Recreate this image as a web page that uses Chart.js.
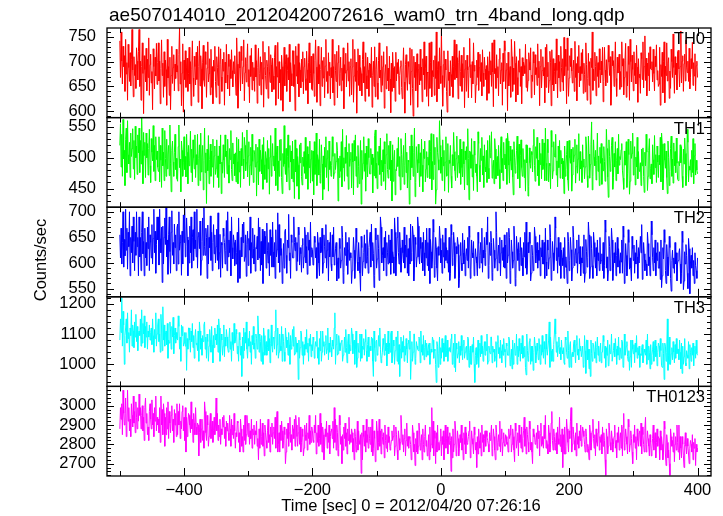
<!DOCTYPE html>
<html><head><meta charset="utf-8">
<script src="https://cdn.jsdelivr.net/npm/chart.js@4.4.1/dist/chart.umd.min.js"></script>
<style>html,body{margin:0;padding:0;background:#fff;}canvas{display:block;}</style>
</head><body>
<canvas id="c" width="723" height="516"></canvas>
<script>
const plotTitle = "ae507014010_20120420072616_wam0_trn_4band_long.qdp";
const xTitle = "Time [sec] 0 = 2012/04/20 07:26:16";
const yTitle = "Counts/sec";
const bandNames = ["TH0", "TH1", "TH2", "TH3", "TH0123"];
const bandColors = ["#ff0000", "#00ff00", "#0000ff", "#00ffff", "#ff00ff"];
const binStart = -500;
const binSize = 1;

const th0 = [
742,668,760,701,655,731,690,712,640,745,675,698,622,735,688,660,718,651,705,765,683,629,710,672,694,646,728,701,663,720,
765,650,701,622,690,738,676,595,712,684,659,727,641,705,668,748,632,694,715,657,680,603,726,690,645,709,671,737,654,698,
738,661,701,615,686,744,672,697,628,720,650,703,684,612,745,667,690,632,709,603,672,731,656,688,714,641,695,666,725,679,
692,641,714,768,655,700,611,677,736,598,703,664,722,648,689,707,640,676,729,655,700,611,685,742,667,630,711,690,653,719,
664,731,618,690,742,651,712,685,605,699,733,662,650,720,694,628,687,740,659,676,706,633,725,648,690,615,703,681,731,660,
628,710,688,652,730,615,694,726,669,640,705,681,719,612,699,657,735,673,645,715,690,631,704,666,724,682,649,700,676,712,
673,632,748,695,606,661,720,687,641,731,702,655,690,744,621,678,708,659,697,736,650,684,617,712,670,727,643,699,662,688,
640,734,669,702,616,688,727,652,676,710,633,699,665,741,608,687,719,672,645,703,690,626,731,681,658,714,694,639,707,671,
644,708,733,612,690,669,739,625,700,657,684,622,713,690,600,667,729,651,695,714,640,682,708,663,735,619,698,676,651,722,
722,650,694,601,731,671,712,655,736,629,698,683,647,705,660,720,635,690,707,666,642,721,684,615,699,738,657,676,711,645,
642,716,676,630,702,744,689,618,673,731,655,694,611,684,729,650,702,667,709,627,691,745,660,680,636,718,672,699,625,688,
668,745,637,690,612,715,682,660,721,627,698,733,652,676,709,641,687,662,728,605,694,677,717,649,683,738,661,700,630,690,
706,633,689,745,618,671,725,660,699,596,681,726,652,713,641,688,676,631,704,740,657,690,620,718,672,645,709,683,630,697,
695,668,729,608,672,701,650,730,629,684,709,657,624,702,738,667,683,639,712,652,690,720,606,675,694,645,731,661,687,641,
711,665,597,697,640,719,688,647,690,620,719,661,698,676,705,634,672,690,702,648,625,683,728,659,596,694,714,668,642,700,
690,655,728,612,680,725,646,590,711,668,699,641,677,716,608,684,695,653,725,662,689,619,706,673,740,644,687,711,630,679,
677,610,738,646,698,740,629,682,670,703,632,712,666,760,619,684,700,645,728,691,656,765,672,610,694,722,648,705,683,640,
598,722,662,679,631,702,674,650,711,628,690,744,664,689,735,667,708,625,699,722,651,680,713,640,696,668,729,607,685,703,
640,713,683,627,690,747,668,694,627,700,655,738,681,693,617,653,703,668,719,642,688,715,660,698,631,724,677,650,709,685,
664,692,622,710,681,636,720,674,702,650,738,679,609,744,676,686,646,714,668,690,631,705,727,655,683,698,612,717,660,742,
722,645,683,697,601,719,651,673,690,628,745,710,640,687,654,741,697,619,710,668,633,702,679,726,650,690,615,708,671,699,
692,676,735,648,705,640,662,718,699,683,728,627,673,660,720,697,633,714,674,688,652,736,668,701,611,690,725,647,682,710,
671,688,617,729,648,735,670,699,637,662,721,699,611,724,653,706,641,680,697,655,746,682,627,713,667,700,640,731,688,659,
706,641,749,672,725,690,615,748,682,630,667,712,690,727,681,657,684,703,640,741,668,696,621,710,678,733,649,690,662,718,
676,725,636,697,674,639,738,694,622,666,717,652,700,614,707,688,760,642,685,662,719,690,631,711,670,698,648,726,683,657,
701,673,729,619,660,729,683,651,704,658,683,733,699,672,710,612,645,721,692,702,650,687,740,666,630,709,677,695,715,644,
680,649,740,691,706,633,668,702,737,628,680,651,731,694,622,745,700,659,713,684,641,720,672,697,655,733,689,618,706,668,
675,636,718,706,664,740,647,690,752,662,707,631,697,672,718,641,730,686,684,700,659,725,676,641,711,690,734,663,682,650,
655,729,612,694,670,719,637,700,740,617,691,672,738,661,697,708,626,681,646,725,700,668,756,688,636,710,674,697,643,720,
723,685,649,690,762,657,701,712,640,696,715,661,744,689,678,701,660,727,645,668,706,686,739,652,698,671,716,641,692,701,
668];
const th1 = [
520,555,485,538,470,562,498,512,455,530,548,476,560,505,490,525,468,540,502,515,547,482,528,465,551,500,519,473,537,508,
548,476,528,490,565,512,458,541,504,525,468,540,500,523,472,515,546,487,460,531,509,495,552,478,520,463,534,497,511,485,
478,534,461,520,496,452,548,487,509,463,544,499,470,530,482,506,520,471,553,490,445,512,527,493,470,509,538,481,499,466,
462,518,553,484,498,445,527,512,470,493,534,481,502,469,538,509,458,520,487,495,543,476,514,461,529,500,482,537,468,505,
489,538,455,499,521,463,540,477,501,520,448,495,548,476,508,426,514,479,536,458,497,522,470,511,485,530,452,503,519,473,
483,529,468,503,452,519,490,537,442,493,475,521,496,468,537,502,511,474,530,488,459,515,497,544,481,463,524,490,506,471,
508,461,533,494,458,530,477,511,452,515,487,541,498,466,533,520,479,492,545,469,503,526,455,488,517,472,538,494,460,512,
506,485,522,438,493,517,456,530,478,512,497,474,521,449,533,489,465,510,499,460,528,482,515,441,501,536,470,493,523,487,
503,479,548,455,506,519,447,495,470,529,496,530,468,442,507,486,552,490,473,515,461,502,537,484,448,520,493,511,466,527,
461,498,434,529,477,515,454,502,488,433,521,492,524,470,456,501,486,510,475,533,466,495,518,449,506,484,527,459,498,512,
462,511,440,526,473,490,540,455,505,497,472,530,459,475,521,490,432,503,449,517,485,534,468,499,512,446,527,481,494,470,
488,534,502,466,475,507,481,494,525,512,430,499,468,503,478,526,453,546,484,500,462,517,491,536,470,509,449,523,486,497,
509,451,523,493,440,528,495,537,470,502,452,520,486,458,490,528,425,512,465,491,534,478,507,446,519,489,469,531,500,474,
474,515,489,506,443,500,471,536,545,467,491,450,510,488,519,473,532,455,496,477,513,462,526,490,448,505,539,481,467,520,
481,527,463,496,430,521,462,498,512,440,481,479,515,486,533,470,502,448,531,505,469,493,520,457,488,540,476,509,451,496,
493,425,519,464,537,484,519,470,509,548,437,460,518,497,476,522,491,453,508,470,530,488,445,514,499,527,461,482,510,468,
501,488,528,466,510,539,448,494,465,538,489,517,425,448,533,509,497,480,560,520,475,501,463,529,487,512,446,493,534,470,
472,523,444,496,491,520,470,451,505,487,541,510,479,463,499,535,468,492,504,475,530,457,514,484,469,526,490,448,511,497,
518,456,547,499,432,511,509,483,531,469,505,447,527,504,476,490,470,445,542,523,488,461,515,496,533,472,503,452,521,485,
477,512,460,528,483,466,536,500,509,542,467,485,496,458,531,514,466,494,502,471,520,481,450,511,534,476,499,463,525,489,
506,482,531,457,540,527,488,459,519,495,480,513,469,440,526,501,475,488,512,535,466,498,522,451,504,529,484,470,515,493,
468,497,446,521,492,520,438,454,516,492,483,510,505,477,520,546,487,462,518,499,533,471,496,455,524,489,507,466,530,481,
486,524,463,548,491,463,530,508,461,491,487,450,544,517,466,479,526,503,501,538,472,495,453,519,484,528,467,512,490,499,
466,495,442,519,470,481,505,527,464,447,528,500,491,514,446,472,517,493,504,530,459,486,521,475,498,539,463,510,482,495,
460,521,485,498,466,485,534,519,471,452,535,506,467,489,522,558,448,470,529,501,487,512,464,496,540,478,503,455,517,491,
523,457,499,479,518,494,462,480,546,515,469,436,529,502,478,490,520,533,449,468,507,485,526,463,495,515,474,538,488,502,
497,513,523,480,467,449,511,488,497,526,452,474,530,505,441,462,527,499,507,540,472,493,518,456,501,485,533,466,510,479,
478,492,455,514,487,516,470,444,509,487,538,509,447,470,512,531,466,483,490,458,521,497,473,536,484,505,460,519,493,468,
504,489,533,461,540,522,448,466,523,496,483,511,468,442,527,500,455,478,515,535,470,498,459,524,487,510,476,532,491,465,
463,494,487,521,492,518,470,452,514,490,532,507,455,471,546,525,461,486,480,497,469,512,476,531,458,503,523,472,496,480,
474];
const th2 = [
655,610,668,598,640,700,592,646,614,705,625,668,588,660,632,700,575,650,620,672,600,690,642,585,660,615,700,632,650,575,
690,612,650,585,660,700,618,642,575,668,610,640,595,670,628,690,585,655,640,610,675,598,648,705,620,662,580,636,690,645,
690,596,705,648,620,670,562,672,598,650,688,636,710,612,645,578,655,690,622,580,660,702,615,640,598,676,630,655,585,668,
676,598,700,625,640,655,576,662,598,694,640,708,612,633,688,651,575,645,600,672,620,690,590,650,665,605,700,628,645,612,
705,590,652,660,628,682,576,605,642,688,615,710,632,615,668,650,570,674,598,650,630,692,605,660,585,640,675,618,655,600,
632,666,605,698,588,620,656,572,640,635,590,668,652,640,598,625,683,585,700,612,645,620,662,575,690,630,608,655,640,595,
645,598,620,660,562,688,625,570,600,650,612,676,640,680,603,612,655,574,636,662,595,648,625,690,580,640,610,668,628,598,
655,584,630,628,652,606,688,610,670,585,642,596,666,560,645,662,618,652,590,678,625,600,640,575,665,615,650,592,680,622,
592,640,570,665,612,626,698,600,675,582,648,615,628,560,600,638,590,662,666,615,580,645,630,695,605,620,570,655,640,610,
610,690,640,624,650,585,640,603,670,655,596,630,618,582,635,648,590,612,670,655,600,632,578,660,625,645,595,680,612,630,
626,596,598,652,640,610,630,570,660,640,600,575,650,620,622,668,580,600,655,632,610,675,590,625,645,565,640,612,660,598,
585,655,612,670,596,612,628,640,565,598,610,570,648,628,590,605,672,650,560,582,630,615,660,595,640,578,625,650,605,620,
610,560,585,602,650,625,570,598,668,640,602,585,640,612,580,545,652,630,575,603,620,655,590,638,600,665,612,580,630,645,
660,592,676,605,640,618,552,575,668,645,590,608,655,628,566,590,690,670,600,615,630,585,650,610,662,575,640,620,598,655,
600,645,578,666,600,622,612,580,688,660,575,612,650,690,620,598,660,630,582,606,645,620,600,670,590,635,612,655,580,628,
575,648,598,676,604,620,672,655,565,590,650,636,592,612,690,672,612,598,650,628,600,640,585,660,620,575,645,610,668,595,
640,585,668,560,646,622,590,606,685,660,572,595,650,630,590,565,632,615,672,648,600,625,580,655,612,640,590,668,605,630,
600,625,582,650,566,580,675,655,595,610,660,640,570,592,632,618,650,636,552,570,615,640,600,585,658,620,598,645,575,612,
628,605,650,590,672,650,570,588,645,620,610,642,575,598,628,612,600,575,660,638,590,615,640,600,668,582,625,610,650,595,
620,660,636,690,570,595,640,615,662,640,566,582,648,625,590,608,700,660,585,612,635,600,650,575,620,645,605,630,592,655,
590,635,570,660,600,615,668,650,560,585,645,622,590,605,672,645,555,570,652,628,605,640,585,620,650,595,630,610,575,640,
612,660,590,680,578,596,640,620,660,638,565,580,635,615,585,600,670,652,600,618,640,590,625,605,655,575,630,612,645,598,
598,640,570,668,602,575,645,625,588,610,675,650,566,588,642,620,585,604,690,668,605,630,580,650,612,595,640,570,625,610,
595,630,570,650,592,612,590,560,660,642,585,605,650,626,565,590,672,650,595,615,628,600,645,580,620,655,598,632,575,610,
600,632,580,655,562,580,646,622,592,610,680,655,570,592,652,628,595,570,660,640,612,590,630,575,645,605,620,585,650,598,
605,618,585,640,570,595,684,660,590,612,565,585,652,632,585,608,668,645,566,590,620,600,640,575,615,650,592,628,605,580,
620,602,645,580,672,650,560,582,638,615,575,598,665,640,588,610,590,565,652,628,605,635,580,620,598,645,612,570,630,600,
600,652,620,675,568,590,640,618,585,606,598,575,660,638,595,612,575,596,682,655,610,585,630,600,645,575,620,605,640,590,
590,622,568,645,552,575,630,608,665,640,585,560,636,612,575,596,652,630,570,545,605,625,590,610,580,640,598,620,565,600,
605,620,628,598,560,580,662,640,548,565,622,598,636,615,580,550,648,628,540,600,615,590,630,575,605,560,620,595,585,570,
610];
const th3 = [
1080,1150,1105,1220,1060,1175,1130,1000,1095,1120,1150,1070,1170,1085,1105,1040,1120,1095,1180,1060,1130,1110,1055,1140,1090,1165,1075,1125,1045,1100,
1110,1095,1150,1060,1180,1070,1135,1100,1160,1055,1125,1090,1140,1050,1110,1090,1130,1080,1105,1120,1065,1150,1095,1040,1115,1085,1170,1060,1100,1130,
1150,1075,1100,1040,1165,1120,1045,1190,1080,1130,1060,1100,1110,1065,1135,1020,1080,1070,1140,1110,1050,1125,1090,1155,1035,1095,1120,1070,1105,1085,
1080,1160,1125,1050,1090,1010,1130,1095,1125,1060,1070,1105,1060,1105,980,1085,1050,1120,1120,1080,1040,1110,1075,1135,1055,1095,1020,1090,1115,1065,
1070,1045,1110,1010,1140,1110,1050,1085,1030,1095,1075,1130,1140,1050,1090,1020,1100,1075,1010,1060,1115,1080,1040,1125,1065,1005,1095,1055,1120,1080,
1100,1065,1130,1040,1150,1120,1010,1040,1100,1080,1030,1060,1130,1025,1090,1060,1115,1090,1055,1040,1085,1120,1050,1075,1010,1105,1065,1045,1135,1070,
1075,1115,1100,1035,1060,1010,1105,1080,1030,1060,960,1090,1020,1120,1045,1105,1070,1140,1050,1020,1085,1060,1110,1040,1075,1000,1095,1065,1125,1050,
1070,1020,1100,1085,1050,1160,1110,1040,1100,1075,1010,1095,1040,1000,1120,1095,1030,1060,1075,1030,1055,1115,1045,1085,1005,1070,1130,1060,1040,1090,
1085,1050,1110,1180,1030,1065,1120,1020,1040,1100,1060,1045,1125,1010,1100,1075,1040,1010,1120,1090,1055,1080,1030,1105,1065,1000,1095,1050,1070,1115,
1060,1125,1030,1035,1090,1070,1040,1070,950,1080,1020,1055,1110,1100,1030,1075,1000,1065,1030,1090,1050,1115,1040,1070,1010,1085,1060,1100,1025,1065,
1045,1090,1080,1020,1050,1075,1060,1110,1020,1055,1000,1085,1045,1110,1010,1040,1110,1060,1075,1030,1065,1095,1035,1050,1120,1015,1070,1040,1090,1055,
1025,1080,1060,1050,1120,1170,1000,1065,1100,1030,1035,1095,1070,1045,1060,1075,1080,1010,1030,1050,1090,1040,1115,1055,1005,1070,1100,1035,1065,1045,
1065,1120,1100,1035,1070,1080,1000,1050,1110,990,1020,1070,1040,1040,1100,1010,1100,1020,1060,1050,1085,1030,1075,1115,1045,1010,1065,1090,1025,1055,
1060,1045,1090,1085,1010,960,1110,1055,1010,1075,1080,1030,1040,1095,1060,1120,1050,1005,1020,1040,1085,1065,1030,1100,1045,1070,995,1055,1110,1035,
1070,1040,1100,1110,1005,1025,1080,1060,1000,1045,1090,1090,1010,1110,1000,1065,960,1050,1090,1020,1075,1040,1095,1010,1060,1030,1085,1050,1005,1070,
1080,1050,1110,950,1015,1075,1010,1040,1100,1100,1000,1020,1075,1060,1050,1045,1090,1085,1005,1110,1040,1065,1030,1095,1015,1055,1080,1025,1070,1045,
1030,1065,1070,1000,1030,1050,1040,1090,1080,1020,1050,1045,1000,940,1075,1060,990,1035,1090,1000,1055,1020,1085,1040,1070,1010,1060,1095,1025,1045,
1080,1010,1050,1055,1045,1040,1085,1100,1000,1025,1070,990,1100,975,1070,1050,1020,1035,1075,1005,1060,1030,1095,1045,1015,1065,1080,1020,1040,1055,
1060,1015,1090,1085,990,1040,1060,1000,1000,1065,1040,1090,1000,940,1030,1055,1000,1020,1080,990,1050,1070,1025,1095,1035,1060,1010,1045,1075,1030,
1075,1045,1100,1000,1010,1060,1045,1035,1090,1090,1005,1060,1040,1050,1010,1025,1075,990,1070,1095,1035,1055,1020,1080,1045,1005,1065,1030,1085,1050,
1040,990,1070,1060,1030,1030,1090,1080,995,1015,1050,985,1080,1000,1050,1070,1030,1035,1100,1000,1060,1025,1085,1045,1010,1070,1035,1095,1020,1055,
1025,1060,990,965,1100,1045,1010,1030,1075,1085,1000,1060,1010,1060,980,1040,1090,1060,1005,1030,1070,1045,1015,1085,1050,1000,1065,1030,1095,1040,
1020,1075,1050,1000,1100,1050,1030,1030,1080,1140,990,1090,1045,1010,1050,1010,1065,1100,1150,1100,1040,1075,1025,1060,1090,1035,1055,1015,1080,1045,
1035,1055,1005,1000,1090,1080,1040,1020,1110,1045,990,1060,1075,990,1030,1040,1025,1070,1080,1040,1005,1065,1095,1030,1050,1015,1085,1045,1060,1025,
1025,1060,990,1000,1095,1045,970,1080,1080,1015,1050,985,1050,960,1080,1035,1010,1070,1065,1040,1020,1075,1005,1055,1090,1030,1060,1010,1045,1070,
1005,1040,1040,1095,1075,1020,1060,990,1055,1030,1080,995,1000,1065,1035,1040,1100,1010,1010,1045,1070,1025,1085,1050,1000,1060,1030,1090,1015,1055,
1050,1020,1080,1075,990,995,1100,1030,1040,1060,1075,1025,1010,1045,980,1025,1080,990,1080,1050,1035,1065,1005,1070,1040,1095,1020,1055,1030,1060,
990,1035,1030,1055,1065,1005,1020,1050,1040,1030,1080,1000,1100,1015,1060,1040,985,1065,1000,1030,1050,1075,1010,1045,1080,1025,1060,995,1040,1070,
1060,1025,1085,1045,995,990,1070,1035,950,1070,1060,1010,1040,1150,980,1030,1090,1000,1000,1035,1055,1015,1075,1040,1005,1065,1020,1085,1035,1050,
1050,1015,1080,1040,985,1070,970,1060,1000,1025,1085,1005,995,1045,1030,1020,1075,985,1065,1040,1010,1055,1030,1070,995,1045,1060,1020,1080,1035,
1030];
const th0123 = [
2880,2990,2930,3010,2850,3080,2960,2900,2960,3040,2840,2900,3080,2920,2990,2870,2930,2840,3010,2950,2890,3050,2910,2970,2860,3020,2940,2880,2990,2920,
3060,2950,2990,2880,2950,3000,2870,2940,2820,2990,3040,2910,2960,2850,2890,2820,2970,3010,2930,2880,3030,2900,2960,2840,2990,2920,3050,2870,2940,2900,
2930,2860,2990,2810,3050,2900,2980,2850,3010,2960,2790,2940,2850,2990,2880,3020,2830,2970,2910,2860,2950,3000,2870,2930,2810,2980,2900,2960,2840,3010,
2850,2970,2900,3010,2830,2920,2880,2970,3000,2870,2940,2820,2990,2760,2940,2840,2900,2960,2950,2900,2860,3020,2880,2930,2810,2960,2910,2850,2990,2890,
2850,2910,2900,2740,2860,2930,2810,2880,2930,2820,2870,2780,3020,2970,2860,2820,2950,2900,2790,2840,2900,2960,2830,2880,2920,2810,2870,2940,2850,2900,
3040,2870,2960,2820,2900,2840,2930,2800,2880,2850,2940,2890,2950,2830,2890,2790,2920,2870,2910,2860,2820,2950,2880,2790,2930,2850,2900,2830,2960,2870,
2780,2860,2840,2920,2910,2810,2860,2760,2930,2880,2790,2840,2760,2900,2820,2950,2800,2850,2950,2890,2840,2910,2800,2870,2830,2930,2780,2880,2850,2900,
2800,2870,2850,2920,2790,2830,2720,2880,2780,2930,2800,2840,2910,2790,2860,2740,2900,2860,2820,2780,2870,2930,2810,2850,2760,2890,2840,2910,2800,2860,
2890,2830,2940,2780,2910,2970,2760,2800,2860,2760,2900,2820,2920,2870,2780,2820,2890,2850,2700,2760,2880,2830,2910,2790,2860,2940,2810,2850,2770,2900,
2880,2830,2930,2790,2950,2900,2840,2790,2860,2940,2800,2890,2760,2810,2880,2840,2740,2780,2900,2850,2820,2910,2770,2860,2830,2950,2800,2870,2810,2890,
2870,2820,2810,2900,2860,2950,2750,2860,2810,2900,2790,2830,2960,2800,2910,2760,2890,2850,2720,2790,2880,2840,2920,2780,2860,2810,2900,2750,2840,2870,
2880,2830,2920,2780,2990,2810,2930,2770,2900,2860,2740,2780,2950,2900,2800,2840,2700,2850,2770,2890,2830,2910,2790,2860,2750,2880,2820,2940,2800,2850,
2810,2880,2860,2760,2830,2720,2880,2840,2760,2800,2920,2770,2870,2820,2800,2850,2650,2860,2720,2900,2840,2790,2870,2760,2930,2810,2850,2780,2890,2830,
2800,2890,2760,2930,2740,2780,2870,2830,2710,2750,2920,2870,2770,2810,2930,2790,2870,2750,2880,2840,2800,2860,2730,2900,2820,2780,2850,2760,2890,2810,
2840,2770,2790,2820,2870,2820,2840,2900,2740,2790,2890,2850,2770,2720,2870,2830,2770,2810,2950,2880,2800,2850,2760,2830,2880,2740,2820,2910,2790,2840,
2780,2840,2830,2800,2720,2760,2900,2860,2760,2800,2690,2830,2760,2870,2750,2790,2910,2870,2770,2810,2850,2720,2880,2800,2760,2840,2900,2790,2820,2740,
2760,2850,2720,2890,2760,2800,2990,2780,2920,2740,2870,2830,2700,2860,2760,2900,2770,2810,2770,2820,2880,2740,2840,2800,2870,2720,2810,2900,2780,2830,
2890,2750,2840,2800,2860,2820,2660,2840,2730,2880,2760,2800,2920,2880,2740,2780,2870,2830,2740,2780,2850,2810,2900,2770,2830,2720,2860,2800,2890,2750,
2860,2800,2810,2840,2870,2920,2730,2770,2870,2830,2800,2750,2890,2850,2770,2810,2680,2840,2750,2880,2820,2780,2860,2740,2900,2810,2850,2760,2830,2870,
2790,2870,2840,2820,2800,2760,2860,2820,2850,2900,2740,2780,2880,2840,2770,2720,2900,2860,2770,2810,2850,2790,2920,2760,2830,2880,2740,2810,2860,2800,
2790,2850,2840,2800,2810,2760,2880,2830,2850,2900,2760,2800,2880,2840,2770,2710,2910,2870,2780,2820,2860,2740,2900,2810,2850,2780,2890,2760,2830,2870,
2940,2790,2880,2750,2890,2850,2810,2760,2920,2880,2770,2810,2760,2700,2880,2840,2850,2800,2810,2860,2780,2900,2830,2870,2740,2850,2910,2790,2840,2800,
2780,2900,2830,2950,2780,2820,2800,2750,2900,2860,2760,2800,2910,2970,2820,2770,2880,2840,2770,2810,2860,2750,2890,2830,2800,2940,2790,2850,2760,2880,
2680,2850,2750,2890,2750,2790,2930,2880,2810,2760,2870,2830,2920,2990,2760,2800,2890,2850,2820,2770,2860,2740,2910,2800,2840,2780,2870,2820,2900,2790,
2830,2890,2870,2840,2800,2760,2880,2840,2760,2800,2780,2720,2900,2860,2770,2810,2870,2930,2830,2780,2850,2740,2880,2810,2790,2860,2920,2770,2840,2810,
2850,2750,2890,2790,2860,2820,2720,2640,2880,2840,2750,2790,2910,2870,2810,2770,2870,2830,2760,2800,2840,2900,2780,2820,2730,2860,2810,2890,2770,2830,
2860,2780,2900,2740,2890,2960,2770,2810,2880,2840,2800,2750,2930,2890,2760,2800,2870,2830,2760,2700,2850,2810,2900,2780,2840,2720,2880,2820,2790,2860,
2870,2790,2910,2750,2890,2850,2800,2760,2880,2940,2760,2800,2870,2830,2790,2740,2850,2810,2740,2780,2830,2900,2770,2820,2860,2730,2810,2880,2790,2840,
2830,2720,2870,2770,2840,2800,2720,2760,2920,2880,2750,2690,2850,2810,2730,2770,2700,2640,2880,2840,2790,2820,2760,2860,2710,2800,2840,2770,2900,2810,
2760,2900,2720,2840,2780,2730,2840,2800,2740,2680,2800,2860,2790,2750,2830,2790,2750,2700,2780,2820,2800,2760,2850,2720,2810,2780,2830,2690,2800,2760,
2780];

const bandValues = [th0, th1, th2, th3, th0123];
const xRange = [-520, 421];
const xTicks = [-400, -200, 0, 200, 400];
const xMinorTicks = [-500, -300, -100, 100, 300];
const yRanges = [[587, 768], [420, 565], [534, 709], [927, 1223], [2636, 3100]];
const yTicks = [[600, 650, 700, 750], [450, 500, 550], [550, 600, 650, 700], [1000, 1100, 1200], [2700, 2800, 2900, 3000]];
const yMinorStep = [10, 10, 10, 20, 20];

const FONT = "'Liberation Sans', Arial, Helvetica, sans-serif";
const fmt = v => (v < 0 ? '\u2212' + Math.abs(v) : String(v));

const datasets = bandValues.map((vals, i) => ({
  label: bandNames[i],
  data: vals.map((v, k) => ({x: binStart + binSize * k, y: v})),
  yAxisID: 'y' + i,
  borderColor: bandColors[i],
  backgroundColor: bandColors[i],
  borderWidth: 1,
  pointRadius: 0,
  tension: 0,
  fill: false,
  clip: false
}));

const scales = {
  x: {
    type: 'linear', position: 'bottom', min: xRange[0], max: xRange[1],
    afterBuildTicks: s => { s.ticks = xTicks.map(v => ({value: v})); },
    afterFit: s => { s.height = 40; },
    grid: {display: false, drawTicks: false},
    border: {display: false},
    ticks: {color: '#000', font: {family: FONT, size: 16.5}, padding: 5, autoSkip: false, maxRotation: 0, callback: v => fmt(v)}
  }
};
yRanges.forEach((r, i) => {
  scales['y' + i] = {
    type: 'linear', position: 'left', stack: 'panels', stackWeight: 1, weight: 10 - i,
    min: r[0], max: r[1], offset: false,
    afterBuildTicks: s => { s.ticks = yTicks[i].map(v => ({value: v})); },
    afterFit: s => { s.width = 107; },
    grid: {display: false, drawTicks: false},
    border: {display: false},
    ticks: {color: '#000', font: {family: FONT, size: 16.5}, padding: 11, autoSkip: false, callback: v => fmt(v)}
  };
});

const panelPlugin = {
  id: 'panels',
  beforeDatasetDraw(chart, args) {
    const xs = args.meta.xScale, ys = args.meta.yScale, ctx = chart.ctx;
    ctx.save();
    ctx.beginPath();
    ctx.rect(xs.left, ys.top, xs.right - xs.left, ys.bottom - ys.top);
    ctx.clip();
  },
  afterDatasetDraw(chart) { chart.ctx.restore(); },
  afterDatasetsDraw(chart) {
    const ctx = chart.ctx, xs = chart.scales.x;
    const L = xs.left, R = xs.right;
    ctx.save();
    ctx.strokeStyle = '#000';
    ctx.lineWidth = 1;
    for (let i = 0; i < yRanges.length; i++) {
      const ys = chart.scales['y' + i];
      const T = ys.top, B = ys.bottom;
      ctx.beginPath();
      const step = yMinorStep[i];
      for (let v = Math.ceil(yRanges[i][0] / step) * step; v <= yRanges[i][1]; v += step) {
        const p = Math.round(ys.getPixelForValue(v)) + 0.5;
        const len = yTicks[i].includes(v) ? 7 : 4;
        ctx.moveTo(L, p); ctx.lineTo(L + len, p);
        ctx.moveTo(R, p); ctx.lineTo(R - len, p);
      }
      const drawX = (vals, len) => vals.forEach(v => {
        const p = Math.round(xs.getPixelForValue(v)) + 0.5;
        ctx.moveTo(p, T); ctx.lineTo(p, T + len);
        ctx.moveTo(p, B); ctx.lineTo(p, B - len);
      });
      drawX(xTicks, 8);
      drawX(xMinorTicks, 5);
      ctx.stroke();
      ctx.lineWidth = 1.3;
      ctx.strokeRect(L, T, R - L, B - T);
      ctx.lineWidth = 1;
    }
    ctx.restore();
  },
  afterDraw(chart) {
    const ctx = chart.ctx, xs = chart.scales.x;
    ctx.save();
    ctx.fillStyle = '#000';
    ctx.font = '19px ' + FONT;
    ctx.textAlign = 'left';
    ctx.textBaseline = 'alphabetic';
    ctx.fillText(plotTitle, 109, 21);
    ctx.font = '16.5px ' + FONT;
    ctx.textAlign = 'right';
    for (let i = 0; i < bandNames.length; i++) {
      const ys = chart.scales['y' + i];
      ctx.fillText(bandNames[i], xs.right - 6, ys.top + 16);
    }
    ctx.textAlign = 'center';
    ctx.textBaseline = 'middle';
    ctx.fillText(xTitle, 411, 506);
    ctx.translate(41, 260);
    ctx.rotate(-Math.PI / 2);
    ctx.fillText(yTitle, 0, 0);
    ctx.restore();
  }
};

new Chart(document.getElementById('c'), {
  type: 'line',
  data: {datasets},
  options: {
    responsive: false,
    animation: false,
    devicePixelRatio: 1,
    layout: {padding: {left: 0, top: 28, right: 12, bottom: 0}},
    plugins: {legend: {display: false}, tooltip: {enabled: false}, title: {display: false}},
    scales
  },
  plugins: [panelPlugin]
});
</script>
</body></html>
